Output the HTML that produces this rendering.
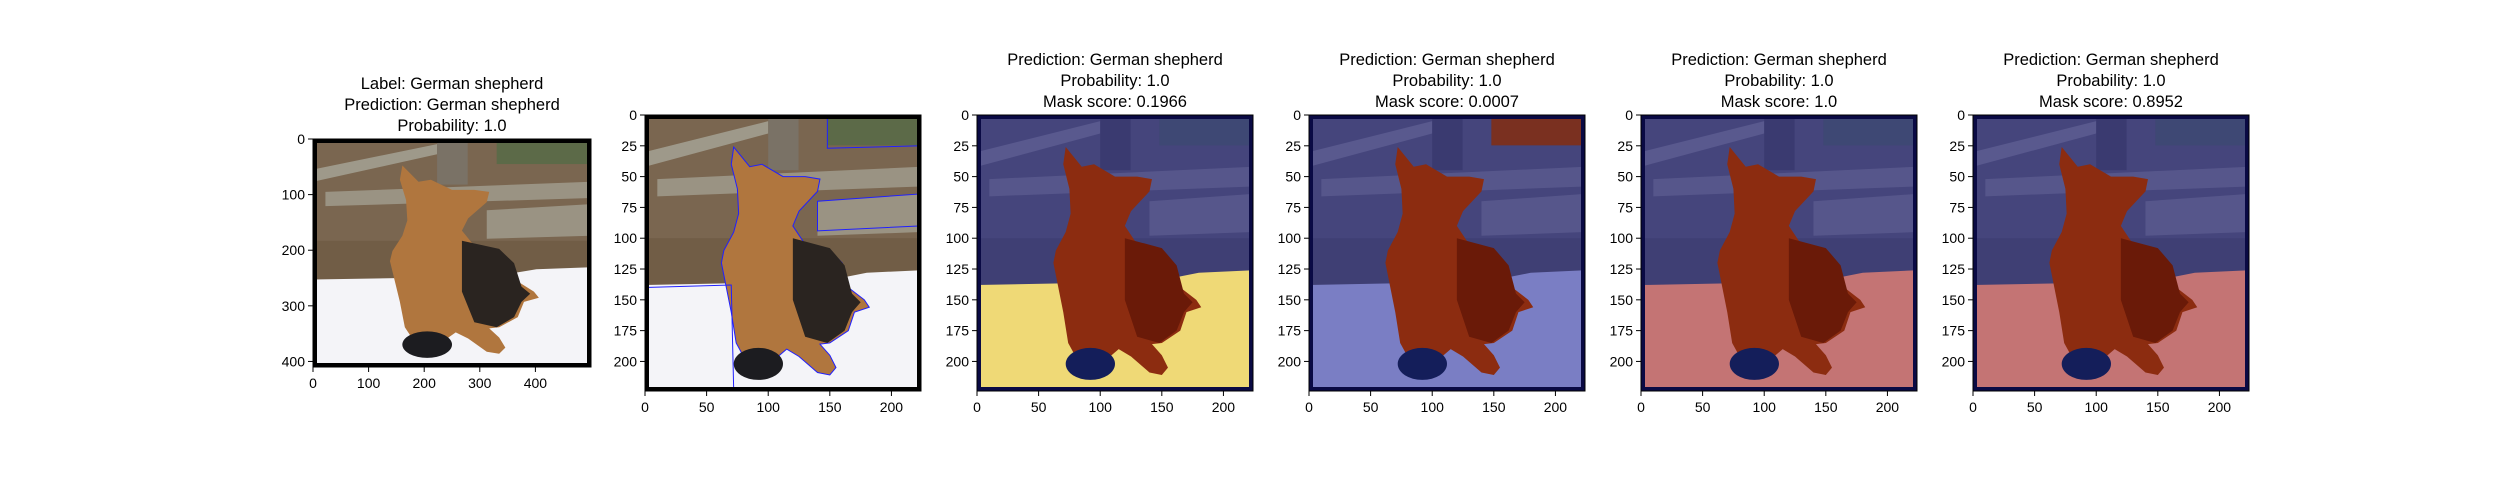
<!DOCTYPE html>
<html><head><meta charset="utf-8"><style>
html,body{margin:0;padding:0;background:#fff;}
svg{display:block;font-family:"Liberation Sans","DejaVu Sans",sans-serif;}
</style></head><body>
<svg id="fig" width="2500" height="500" viewBox="0 0 2500 500" xmlns="http://www.w3.org/2000/svg"></svg>
<script>
const titles = [
  ["Label: German shepherd","Prediction: German shepherd","Probability: 1.0"],
  [],
  ["Prediction: German shepherd","Probability: 1.0","Mask score: 0.1966"],
  ["Prediction: German shepherd","Probability: 1.0","Mask score: 0.0007"],
  ["Prediction: German shepherd","Probability: 1.0","Mask score: 1.0"],
  ["Prediction: German shepherd","Probability: 1.0","Mask score: 0.8952"]
];
const panelKinds = ["photo","outline","mask-yellow","mask-fence","mask-red","mask-red"];
const ticksSmall = [0,50,100,150,200];
const yticksSmall = [0,25,50,75,100,125,150,175,200];
const ticksBig = [0,100,200,300,400];
const NS="http://www.w3.org/2000/svg";
const svg=document.getElementById('fig');
function el(tag,attrs,parent){const e=document.createElementNS(NS,tag);for(const k in attrs)e.setAttribute(k,attrs[k]);(parent||svg).appendChild(e);return e;}
const dog=[[72,26],[85,42],[95,40],[112,50],[130,50],[142,52],[140,62],[125,78],[120,90],[130,105],[150,110],[160,120],[165,140],[178,150],[182,156],[170,160],[165,175],[150,185],[142,186],[150,195],[155,205],[150,211],[140,209],[125,196],[115,190],[108,196],[85,192],[80,196],[74,185],[70,160],[62,120],[64,110],[72,95],[76,80],[75,60],[70,40]];
const snow=[[0,138],[100,136],[160,132],[180,128],[224,126],[224,224],[0,224]];
const back=[[120,100],[150,108],[162,122],[168,145],[175,152],[168,160],[162,175],[148,185],[130,180],[120,150]];
function drawPanel(i,x0,y0,w,h,W,H,xt,yt){
  const g=el('g',{},svg);
  
  
  const sx=v=>x0+v/224*w, sy=v=>y0+v/224*h;
  const pts=a=>a.map(p=>sx(p[0])+','+sy(p[1])).join(' ');
  const kind=panelKinds[i];
  const overlay=kind.startsWith('mask');
  el('rect',{x:x0,y:y0,width:w,height:h,fill:overlay?'#45457c':'#7a6650'},g);
  const plankC=overlay?'#5e5e92':'#a8a698';
  el('polygon',{points:pts([[0,30],[100,5],[100,15],[0,42]]),fill:plankC,opacity:0.8},g);
  el('polygon',{points:pts([[10,52],[224,42],[224,58],[10,66]]),fill:plankC,opacity:0.7},g);
  el('polygon',{points:pts([[140,70],[224,64],[224,95],[140,98]]),fill:plankC,opacity:0.7},g);
  el('rect',{x:sx(100),y:sy(0),width:w*0.11,height:h*0.2,fill:overlay?'#3a3a70':'#7a7266'},g);
  el('rect',{x:sx(148),y:sy(0),width:w*0.34,height:h*0.11,fill:overlay?'#3e4874':'#5c6a48'},g);
  el('rect',{x:sx(0),y:sy(100),width:w,height:h*0.17,fill:overlay?'#3c3c70':'#6a5640',opacity:0.6},g);
  let snowC='#f4f4f8';
  if(kind==='mask-yellow')snowC='#efd976';
  if(kind==='mask-fence')snowC='#7a7ec4';
  if(kind==='mask-red')snowC='#c47474';
  el('polygon',{points:pts(snow),fill:snowC},g);
  if(kind==='mask-fence')el('rect',{x:sx(148),y:sy(0),width:w*0.33,height:h*0.11,fill:'#7a3020'},g);
  el('polygon',{points:pts(dog),fill:overlay?'#8c2c10':'#b0763e',stroke:kind==='outline'?'#2020ff':'none','stroke-width':1},g);
  el('polygon',{points:pts(back),fill:overlay?'#6a1a08':'#2a2420'},g);
  el('ellipse',{cx:sx(92),cy:sy(202),rx:w*20/224,ry:h*13/224,fill:overlay?'#141e5a':'#1c1c20'},g);
  if(kind==='outline'){
    el('polygon',{points:pts([[0,140],[70,138],[72,224],[0,224]]),fill:'none',stroke:'#2020ff','stroke-width':1},g);
    el('polygon',{points:pts([[148,2],[224,2],[224,25],[148,27]]),fill:'none',stroke:'#2020ff','stroke-width':1},g);
    el('polygon',{points:pts([[140,70],[224,64],[224,90],[140,94]]),fill:'none',stroke:'#2020ff','stroke-width':1},g);
  }
  el('rect',{x:x0+2,y:y0+2,width:w-4,height:h-4,fill:'none',stroke:overlay?'#0a0a44':'#000','stroke-width':4},g);
  el('rect',{x:x0,y:y0,width:w,height:h,fill:'none',stroke:'#000','stroke-width':1},g);
  xt.forEach(t=>{const x=x0+t/W*w;
    el('line',{x1:x,y1:y0+h,x2:x,y2:y0+h+5,stroke:'#000','stroke-width':1},g);
    const tx=el('text',{x:x,y:y0+h+21,'text-anchor':'middle','font-size':14},g);tx.textContent=t;
    
    });
  yt.forEach(t=>{const y=y0+t/H*h;
    el('line',{x1:x0,y1:y,x2:x0-5,y2:y,stroke:'#000','stroke-width':1},g);
    const tx=el('text',{x:x0-8,y:y+5,'text-anchor':'end','font-size':14},g);tx.textContent=t;
    
    });
  const ls=titles[i];
  const ty0=(i===0)?89:65;
  ls.forEach((s,k)=>{const tx=el('text',{x:x0+w/2,y:ty0+k*21,'text-anchor':'middle','font-size':16.5},g);tx.textContent=s;
    
    });
}
drawPanel(0,313,139,278,228,500,410,ticksBig,ticksBig);
const lefts=[645,977,1309,1641,1973];
lefts.forEach((x,k)=>drawPanel(k+1,x,115,276,276,224,224,ticksSmall,yticksSmall));
</script>
</body></html>
